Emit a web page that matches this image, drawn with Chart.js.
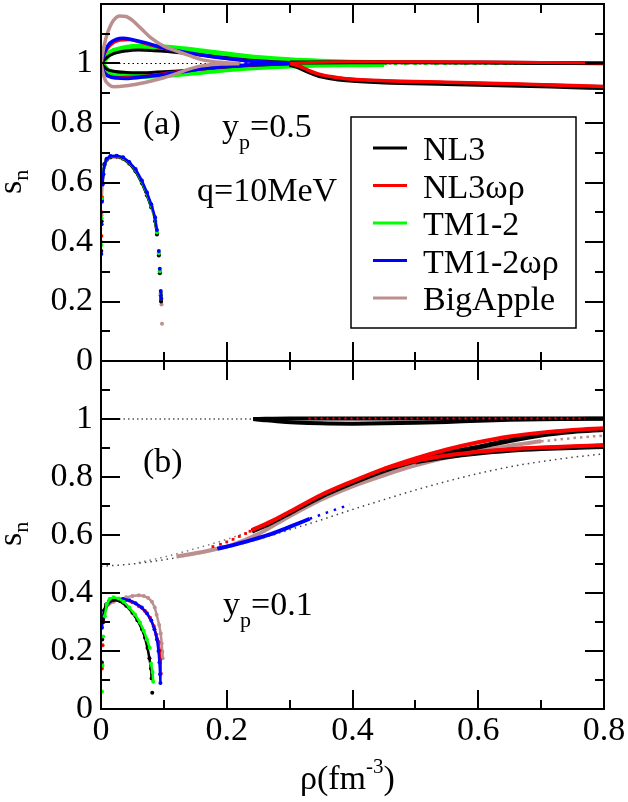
<!DOCTYPE html>
<html><head><meta charset="utf-8">
<script src="https://cdn.jsdelivr.net/npm/chart.js@4.4.0/dist/chart.umd.min.js"></script>
<style>
html,body{margin:0;padding:0;background:#fff;}
#wrap{position:relative;width:628px;height:802px;}
canvas{position:absolute;left:0;top:0;}
</style>
</head><body>
<div id="wrap"><canvas id="ca" width="628" height="802"></canvas><canvas id="cb" width="628" height="802"></canvas></div>
<script>
// ---------- axes / labels ----------
const xTickLabels = ['0','0.2','0.4','0.6','0.8'];
const yTickLabels = ['0','0.2','0.4','0.6','0.8','1'];
const xTickValues = [0,0.1,0.2,0.3,0.4,0.5,0.6,0.7,0.8];
const yTickValues = [0,0.1,0.2,0.3,0.4,0.5,0.6,0.7,0.8,0.9,1.0,1.1,1.2];
const legendLabels = ['NL3','NL3ωρ','TM1-2','TM1-2ωρ','BigApple'];
const legendColors = ['#000000','#ff0000','#00ff00','#0000ff','#bc8f8f'];

// ---------- panel (a): y_p = 0.5 ----------
const a_ref_one = [[0,1],[0.2,1]];
const a_NL3_up = [[0,1],[0.01,1.022],[0.02,1.033],[0.04,1.042],[0.06,1.045],[0.08,1.044],[0.1,1.041],[0.13,1.035],[0.17,1.026],[0.21,1.017],[0.25,1.009],[0.3,1.003]];
const a_NL3_lo = [[0,1],[0.01,0.98],[0.02,0.974],[0.04,0.97],[0.06,0.969],[0.08,0.97],[0.1,0.972],[0.13,0.976],[0.17,0.983],[0.21,0.99],[0.25,0.995],[0.3,0.999]];
const a_NL3_hi = [[0.3,1.003],[0.4,1.004],[0.5,1.004],[0.6,1.003],[0.7,1.002],[0.8,1.001]];
const a_NL3_dn = [[0.3,0.998],[0.315,0.988],[0.33,0.973],[0.345,0.961],[0.365,0.952],[0.39,0.945],[0.45,0.938],[0.55,0.933],[0.65,0.928],[0.75,0.922],[0.8,0.919]];
const a_NL3wr_up = [[0,1],[0.006,1.035],[0.015,1.062],[0.03,1.078],[0.045,1.08],[0.06,1.073],[0.08,1.061],[0.1,1.05],[0.13,1.038],[0.17,1.025],[0.22,1.012],[0.27,1.004],[0.3,1.001]];
const a_NL3wr_lo = [[0,1],[0.006,0.968],[0.015,0.957],[0.03,0.953],[0.05,0.955],[0.08,0.96],[0.1,0.966],[0.14,0.976],[0.18,0.986],[0.23,0.994],[0.28,0.999],[0.3,1]];
const a_NL3wr_hi = [[0.3,1.002],[0.4,1.006],[0.5,1.006],[0.6,1.005],[0.7,1.003],[0.8,1.002]];
const a_NL3wr_dn = [[0.3,1.0],[0.315,0.991],[0.33,0.977],[0.345,0.965],[0.365,0.956],[0.39,0.949],[0.45,0.942],[0.55,0.937],[0.65,0.932],[0.75,0.926],[0.8,0.923]];
const a_TM12_up = [[0,1],[0.01,1.028],[0.02,1.04],[0.04,1.051],[0.06,1.055],[0.08,1.055],[0.1,1.052],[0.13,1.046],[0.17,1.036],[0.21,1.026],[0.25,1.017],[0.3,1.009],[0.35,1.004],[0.4,1.001],[0.45,1.0]];
const a_TM12_lo = [[0,1],[0.01,0.975],[0.02,0.966],[0.04,0.961],[0.06,0.96],[0.08,0.961],[0.1,0.963],[0.13,0.968],[0.17,0.976],[0.21,0.984],[0.25,0.99],[0.3,0.995],[0.35,0.998],[0.4,0.999],[0.45,1.0]];
const a_TM12_one = [[0.45,1],[0.8,1]];
const a_TM12wr_up = [[0,1],[0.006,1.04],[0.014,1.068],[0.025,1.082],[0.035,1.085],[0.05,1.08],[0.07,1.07],[0.09,1.058],[0.11,1.047],[0.14,1.035],[0.18,1.022],[0.22,1.012],[0.26,1.005],[0.3,1.001]];
const a_TM12wr_lo = [[0,1],[0.005,0.97],[0.012,0.957],[0.025,0.951],[0.04,0.95],[0.06,0.953],[0.08,0.958],[0.1,0.963],[0.13,0.972],[0.16,0.982],[0.2,0.99],[0.25,0.997],[0.3,1]];
const a_TM12wr_one = [[0.19,1],[0.3,1]];
const a_BA_up = [[0,1],[0.005,1.06],[0.01,1.1],[0.02,1.145],[0.03,1.16],[0.04,1.158],[0.05,1.145],[0.065,1.115],[0.08,1.085],[0.1,1.058],[0.12,1.042],[0.14,1.027],[0.16,1.013],[0.19,1.004],[0.22,1.0]];
const a_BA_lo = [[0,1],[0.003,0.97],[0.007,0.943],[0.012,0.93],[0.02,0.922],[0.04,0.925],[0.06,0.932],[0.08,0.941],[0.1,0.952],[0.12,0.966],[0.14,0.981],[0.16,0.992],[0.19,0.998],[0.22,1.0]];
const a_BA_one = [[0.2,1],[0.8,1]];
// low-density domes (a)
const a_dome_NL3 = [[0.0005,0.37],[0.001,0.47],[0.0015,0.54],[0.0025,0.595],[0.0035,0.628],[0.0055,0.66],[0.009,0.677],[0.015,0.686],[0.025,0.687],[0.035,0.681],[0.045,0.664],[0.055,0.638],[0.065,0.598],[0.073,0.557],[0.08,0.516],[0.086,0.47],[0.089,0.425],[0.092,0.355],[0.0935,0.295],[0.095,0.22],[0.0955,0.2]];
const a_dome_NL3wr = [[0.0005,0.42],[0.001,0.5],[0.0015,0.55],[0.0025,0.6],[0.0035,0.63],[0.0055,0.661],[0.009,0.678],[0.015,0.687],[0.025,0.688],[0.035,0.682],[0.045,0.666],[0.055,0.64],[0.065,0.601],[0.073,0.56],[0.08,0.52],[0.086,0.475],[0.089,0.43],[0.092,0.36],[0.0935,0.3],[0.095,0.225],[0.0957,0.205]];
const a_dome_TM12 = [[0.0005,0.39],[0.001,0.48],[0.0015,0.545],[0.0025,0.598],[0.0035,0.63],[0.0055,0.662],[0.009,0.679],[0.015,0.688],[0.025,0.689],[0.035,0.683],[0.045,0.667],[0.055,0.642],[0.065,0.603],[0.073,0.562],[0.08,0.522],[0.086,0.477],[0.089,0.432],[0.092,0.362],[0.0935,0.302],[0.095,0.228],[0.0957,0.21]];
const a_dome_TM12wr = [[0.0005,0.36],[0.001,0.46],[0.0015,0.535],[0.0025,0.593],[0.0035,0.628],[0.0055,0.662],[0.009,0.68],[0.015,0.689],[0.025,0.69],[0.035,0.685],[0.045,0.669],[0.055,0.645],[0.065,0.607],[0.073,0.567],[0.08,0.527],[0.086,0.483],[0.089,0.44],[0.092,0.37],[0.0935,0.31],[0.095,0.235],[0.0958,0.21]];
const a_dome_BA = [[0.0005,0.4],[0.001,0.49],[0.0015,0.55],[0.0025,0.597],[0.0035,0.626],[0.0055,0.657],[0.009,0.674],[0.015,0.683],[0.025,0.685],[0.035,0.679],[0.045,0.663],[0.055,0.637],[0.065,0.598],[0.073,0.558],[0.08,0.518],[0.086,0.472],[0.089,0.428],[0.092,0.36],[0.094,0.3],[0.0955,0.23],[0.0963,0.19],[0.097,0.125]];

// ---------- panel (b): y_p = 0.1 ----------
const b_ref_one = [[0,1],[0.25,1]];
const b_NL3_hi = [[0.242,1.0],[0.3,1.002],[0.4,1.002],[0.5,1.002],[0.6,1.002],[0.7,1.002],[0.8,1.002]];
const b_NL3_dip = [[0.242,1.0],[0.26,0.996],[0.28,0.992],[0.31,0.988],[0.35,0.985],[0.4,0.984],[0.45,0.985],[0.5,0.987],[0.55,0.99],[0.6,0.994],[0.65,0.997],[0.7,0.999],[0.75,1.0],[0.8,1.001]];
const b_NL3wr_one = [[0.33,1.002],[0.77,1.002]];
const b_dotted_low = [[0,0.492],[0.04,0.498],[0.08,0.508],[0.12,0.522],[0.16,0.538],[0.2,0.556],[0.25,0.585],[0.3,0.618],[0.35,0.652],[0.4,0.688],[0.45,0.722],[0.5,0.755],[0.55,0.785],[0.6,0.812],[0.65,0.835],[0.7,0.853],[0.75,0.868],[0.8,0.88]];
const b_dotted_mid = [[0.06,0.505],[0.1,0.524],[0.15,0.553],[0.2,0.585],[0.24,0.615]];
const b_BA_curve = [[0.12,0.526],[0.15,0.537],[0.18,0.55],[0.21,0.567],[0.25,0.603],[0.3,0.665],[0.35,0.722],[0.4,0.768],[0.45,0.806],[0.5,0.84],[0.55,0.867],[0.6,0.889],[0.65,0.908],[0.7,0.923]];
const b_BA_tail = [[0.7,0.923],[0.75,0.934],[0.8,0.943]];
const b_TM12wr_curve = [[0.185,0.553],[0.21,0.565],[0.24,0.583],[0.27,0.603],[0.3,0.628],[0.332,0.656]];
const b_TM12wr_tail = [[0.332,0.656],[0.36,0.678],[0.396,0.705]];
const b_NL3wr_dots = [[0.178,0.56],[0.19,0.568],[0.2,0.576],[0.21,0.585],[0.22,0.595],[0.23,0.605],[0.237,0.613]];
const b_NL3wr_up = [[0.24,0.617],[0.27,0.646],[0.3,0.68],[0.35,0.738],[0.4,0.785],[0.45,0.828],[0.5,0.864],[0.55,0.895],[0.6,0.92],[0.65,0.94],[0.7,0.953],[0.75,0.962],[0.8,0.968]];
const b_NL3wr_lo = [[0.45,0.828],[0.5,0.855],[0.55,0.874],[0.6,0.887],[0.65,0.896],[0.7,0.902],[0.75,0.906],[0.8,0.91]];
const b_NL3_up = [[0.24,0.613],[0.27,0.642],[0.3,0.676],[0.35,0.733],[0.4,0.78],[0.45,0.822],[0.5,0.856],[0.55,0.882],[0.6,0.903],[0.65,0.926],[0.7,0.945],[0.75,0.957],[0.8,0.964]];
const b_NL3_lo = [[0.5,0.852],[0.55,0.87],[0.6,0.883],[0.65,0.892],[0.7,0.898],[0.75,0.902],[0.8,0.905]];
// low-density domes (b)
const b_dome_NL3 = [[0.0015,0.16],[0.002,0.24],[0.003,0.3],[0.005,0.34],[0.008,0.36],[0.013,0.372],[0.02,0.377],[0.03,0.372],[0.04,0.356],[0.05,0.332],[0.058,0.306],[0.065,0.276],[0.07,0.246],[0.074,0.21],[0.077,0.175],[0.0795,0.14],[0.0805,0.105],[0.0815,0.056]];
const b_dome_NL3wr = [[0.0015,0.14],[0.0025,0.22],[0.004,0.3],[0.007,0.345],[0.012,0.365],[0.02,0.375],[0.03,0.378],[0.04,0.376],[0.05,0.368],[0.06,0.355],[0.07,0.338],[0.078,0.315],[0.084,0.285],[0.088,0.256],[0.0915,0.231],[0.093,0.202],[0.094,0.17],[0.095,0.122]];
const b_dome_TM12 = [[0.0015,0.06],[0.0025,0.15],[0.0035,0.25],[0.006,0.32],[0.009,0.36],[0.014,0.38],[0.02,0.385],[0.028,0.381],[0.036,0.37],[0.045,0.35],[0.054,0.326],[0.062,0.298],[0.068,0.27],[0.073,0.24],[0.0775,0.21],[0.0795,0.157],[0.082,0.128],[0.083,0.094]];
const b_dome_TM12wr = [[0.0015,0.28],[0.003,0.31],[0.005,0.34],[0.009,0.36],[0.015,0.372],[0.025,0.378],[0.035,0.379],[0.045,0.375],[0.055,0.365],[0.065,0.35],[0.073,0.33],[0.08,0.305],[0.085,0.275],[0.089,0.24],[0.0915,0.2],[0.093,0.16],[0.094,0.12],[0.0945,0.09]];
const b_dome_BA = [[0.003,0.3],[0.006,0.34],[0.012,0.36],[0.02,0.37],[0.03,0.378],[0.04,0.385],[0.05,0.39],[0.06,0.392],[0.068,0.39],[0.075,0.383],[0.081,0.37],[0.0855,0.35],[0.0885,0.325],[0.0925,0.29],[0.095,0.26],[0.0965,0.226],[0.0975,0.198],[0.098,0.175]];

// ---------- helpers ----------
const SERIF = 'Liberation Serif';
const BLACK = legendColors[0], RED = legendColors[1], GREEN = legendColors[2], BLUE = legendColors[3], BA = legendColors[4];
const pts = arr => arr.map(([x, y]) => ({x, y}));
function line(arr, color, width, extra) {
  return Object.assign({
    type: 'line', data: pts(arr), borderColor: color, backgroundColor: color,
    borderWidth: width, pointRadius: 0, fill: false, cubicInterpolationMode: 'monotone',
    borderCapStyle: 'butt', borderJoinStyle: 'round'
  }, extra || {});
}
function dotted(arr, color, width, dash) {
  return line(arr, color, width, {borderDash: dash});
}
const gapSeg = {borderColor: c => (Math.hypot(c.p1.x - c.p0.x, c.p1.y - c.p0.y) > 14 ? 'rgba(0,0,0,0)' : undefined)};
function dome(arr, color) {
  return line(arr, color, 2.5, {pointRadius: 2, pointBorderWidth: 0, pointBackgroundColor: color, segment: gapSeg, cubicInterpolationMode: 'default', tension: 0});
}
function dots(arr, color) {
  return line(arr, color, 0, {showLine: false, pointRadius: 2, pointStyle: 'rect', pointBorderWidth: 0, pointBackgroundColor: color});
}
function setFont(ctx, size) { ctx.font = size + 'px "Liberation Serif"'; }
function richText(ctx, x, y, parts) {
  let cx = x;
  for (const p of parts) {
    setFont(ctx, p.s);
    ctx.fillText(p.t, cx, y + (p.dy || 0));
    cx += ctx.measureText(p.t).width + (p.gap || 0);
  }
}
function yTitle(ctx, x, y) {
  ctx.save();
  ctx.translate(x, y);
  ctx.rotate(-Math.PI / 2);
  richText(ctx, 0, 0, [{t: 's', s: 34}, {t: 'n', s: 22, dy: 7}]);
  ctx.restore();
}
const framePlugin = {
  id: 'frame',
  afterDatasetsDraw(chart) {
    const {ctx, chartArea: a} = chart;
    const xs = chart.scales.x, ys = chart.scales.y;
    ctx.save();
    ctx.strokeStyle = '#000';
    ctx.lineWidth = 2;
    ctx.beginPath();
    xTickValues.forEach((v, i) => {
      const px = Math.round(xs.getPixelForValue(v));
      const len = i % 2 === 0 ? 19 : 9;
      ctx.moveTo(px, a.bottom); ctx.lineTo(px, a.bottom - len);
      ctx.moveTo(px, a.top); ctx.lineTo(px, a.top + len);
    });
    yTickValues.forEach((v, i) => {
      const py = Math.round(ys.getPixelForValue(v));
      const len = i % 2 === 0 ? 19 : 9;
      ctx.moveTo(a.left, py); ctx.lineTo(a.left + len, py);
      ctx.moveTo(a.right, py); ctx.lineTo(a.right - len, py);
    });
    ctx.stroke();
    ctx.strokeRect(a.left, a.top, a.right - a.left, a.bottom - a.top);
    ctx.restore();
  }
};
function yAxis() {
  return {
    type: 'linear', min: 0, max: 1.2,
    afterFit: s => { s.width = 101; s.paddingTop = 0; s.paddingBottom = 0; },
    grid: {display: false, drawTicks: false}, border: {display: false},
    ticks: {stepSize: 0.2, padding: 8, color: '#000', font: {family: SERIF, size: 34},
      callback: v => { const i = Math.round(v / 0.2); return i < yTickLabels.length ? yTickLabels[i] : null; }}
  };
}
const baseOpts = {responsive: false, animation: false, devicePixelRatio: 1,
  plugins: {legend: {display: false}, tooltip: {enabled: false}}};

// ---------- chart (a) ----------
const aSets = [
  dotted(a_ref_one, BLACK, 1, [1.5, 3]),
  dotted(a_BA_one, BA, 2.5, [2.5, 3.5]),
  dotted(a_TM12_one, GREEN, 3, [3, 7]),
  line(a_TM12_up, GREEN, 7), line(a_TM12_lo, GREEN, 7),
  line(a_NL3_up, BLACK, 3), line(a_NL3_lo, BLACK, 3),
  line(a_NL3_hi, BLACK, 4), line(a_NL3_dn, BLACK, 5),
  line(a_NL3wr_up, RED, 3), line(a_NL3wr_lo, RED, 3),
  line(a_NL3wr_hi, RED, 3), line(a_NL3wr_dn, RED, 3.5),
  line(a_TM12wr_up, BLUE, 3.5), line(a_TM12wr_lo, BLUE, 3.5),
  dotted(a_TM12wr_one, BLUE, 3, [3, 5]),
  line(a_BA_up, BA, 3.5), line(a_BA_lo, BA, 3.5),
  dome(a_dome_BA, BA), dome(a_dome_NL3wr, RED), dome(a_dome_NL3, BLACK), dome(a_dome_TM12, GREEN), dome(a_dome_TM12wr, BLUE)
].reverse();

const annotA = {
  id: 'annotA',
  afterDraw(chart) {
    const ctx = chart.ctx;
    ctx.save();
    ctx.fillStyle = '#000';
    ctx.textBaseline = 'alphabetic';
    ctx.textAlign = 'left';
    richText(ctx, 143, 134, [{t: '(a)', s: 34}]);
    richText(ctx, 222, 137, [{t: 'y', s: 34}, {t: 'p', s: 22, dy: 12}, {t: '=0.5', s: 34}]);
    richText(ctx, 197, 201, [{t: 'q=10MeV', s: 34}]);
    yTitle(ctx, 21, 194);
    const L = 351, T = 117, R = 576, B = 328;
    ctx.lineWidth = 1.5;
    ctx.strokeStyle = '#000';
    ctx.strokeRect(L, T, R - L, B - T);
    legendLabels.forEach((lab, i) => {
      const cy = 148 + i * 37.5;
      ctx.strokeStyle = legendColors[i];
      ctx.lineWidth = 3;
      ctx.beginPath(); ctx.moveTo(373, cy); ctx.lineTo(407, cy); ctx.stroke();
      setFont(ctx, 34);
      ctx.fillStyle = '#000';
      ctx.fillText(lab, 423, cy + 12);
    });
    ctx.restore();
  }
};

new Chart(document.getElementById('ca'), {
  type: 'line',
  data: {datasets: aSets},
  options: Object.assign({}, baseOpts, {
    layout: {padding: {top: 2, right: 24, bottom: 441, left: 0}},
    scales: {x: {type: 'linear', min: 0, max: 0.8, display: false}, y: yAxis()}
  }),
  plugins: [framePlugin, annotA]
});

// ---------- chart (b) ----------
const bSets = [
  dotted(b_dotted_low, '#444', 1.5, [1.5, 4]),
  dotted(b_dotted_mid, '#777', 1.5, [1.5, 4]),
  dotted(b_ref_one, BLACK, 1, [1.5, 3]),
  line(b_BA_curve, BA, 4), dotted(b_BA_tail, BA, 2.5, [2.5, 4]),
  line(b_TM12wr_curve, BLUE, 4), dotted(b_TM12wr_tail, BLUE, 2.5, [2.5, 6]),
  line(b_NL3_up, BLACK, 5), line(b_NL3_lo, BLACK, 5),
  line(b_NL3wr_up, RED, 4), line(b_NL3wr_lo, RED, 4),
  dots(b_NL3wr_dots, RED),
  line(b_NL3_hi, BLACK, 4), line(b_NL3_dip, BLACK, 4),
  dotted(b_NL3wr_one, RED, 2, [2, 4]),
  dome(b_dome_BA, BA), dome(b_dome_NL3wr, RED), dome(b_dome_TM12wr, BLUE), dome(b_dome_NL3, BLACK), dome(b_dome_TM12, GREEN)
].reverse();

const annotB = {
  id: 'annotB',
  afterDraw(chart) {
    const ctx = chart.ctx;
    ctx.save();
    ctx.fillStyle = '#000';
    ctx.textBaseline = 'alphabetic';
    ctx.textAlign = 'left';
    richText(ctx, 143, 472, [{t: '(b)', s: 34}]);
    richText(ctx, 223, 615, [{t: 'y', s: 34}, {t: 'p', s: 22, dy: 12}, {t: '=0.1', s: 34}]);
    yTitle(ctx, 21, 546);
    richText(ctx, 300, 789, [{t: 'ρ(fm', s: 34}, {t: '-3', s: 21, dy: -16}, {t: ')', s: 34}]);
    ctx.restore();
  }
};

new Chart(document.getElementById('cb'), {
  type: 'line',
  data: {datasets: bSets},
  options: Object.assign({}, baseOpts, {
    layout: {padding: {top: 361, right: 24, bottom: 0, left: 0}},
    scales: {
      x: {type: 'linear', min: 0, max: 0.8, position: 'bottom',
        afterFit: s => { s.height = 93; s.paddingLeft = 0; s.paddingRight = 0; },
        grid: {display: false, drawTicks: false}, border: {display: false},
        ticks: {stepSize: 0.2, padding: 2, maxRotation: 0, autoSkip: false, color: '#000', font: {family: SERIF, size: 34},
          callback: v => xTickLabels[Math.round(v / 0.2)]}},
      y: yAxis()
    }
  }),
  plugins: [framePlugin, annotB]
});
</script>
</body></html>
